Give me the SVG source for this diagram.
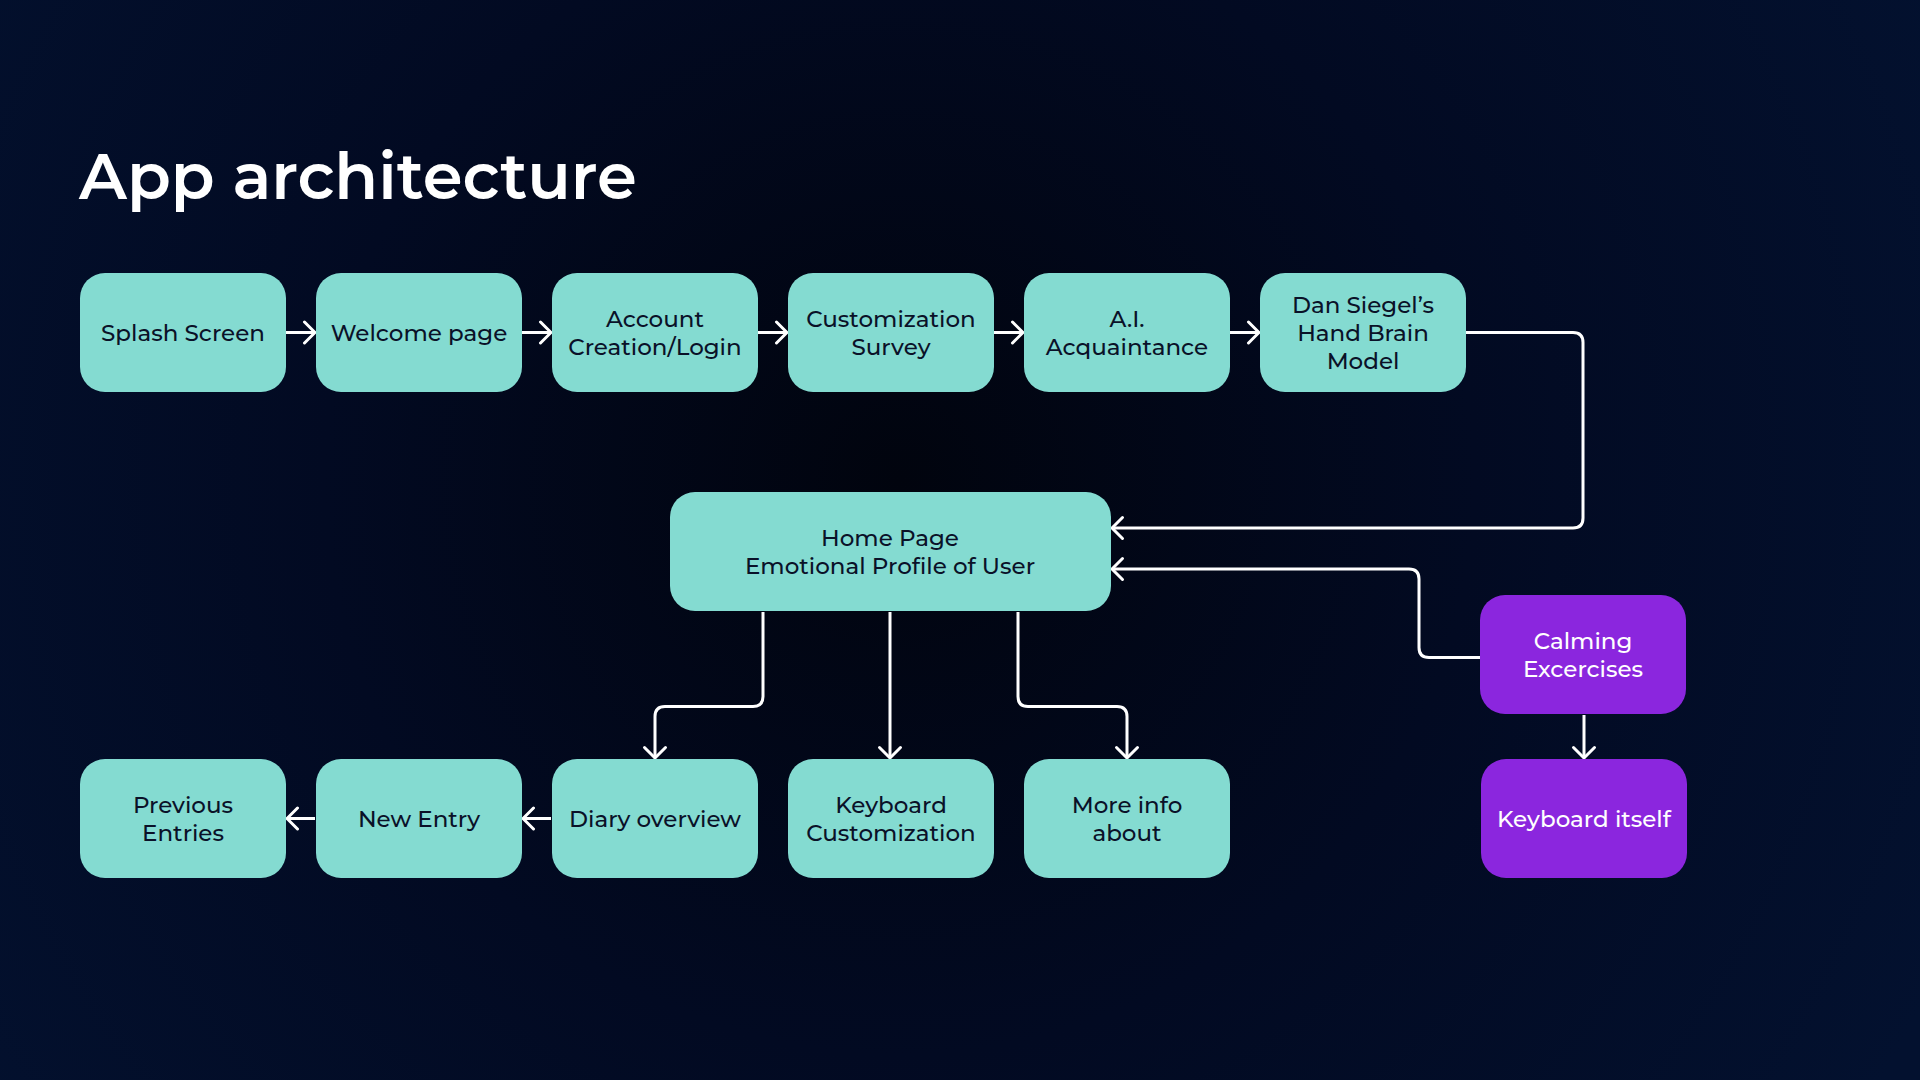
<svg xmlns="http://www.w3.org/2000/svg" width="1920" height="1080" viewBox="0 0 1920 1080">
<defs>
<radialGradient id="bg" cx="900" cy="480" r="1150" gradientUnits="userSpaceOnUse">
<stop offset="0" stop-color="#01040e"/>
<stop offset="0.5" stop-color="#020a22"/>
<stop offset="1" stop-color="#03112f"/>
</radialGradient>
<marker id="arr" viewBox="0 0 26 26" refX="23" refY="13" markerWidth="26" markerHeight="26" markerUnits="userSpaceOnUse" orient="auto">
<path d="M12.5,2.5 L23,13 L12.5,23.5" fill="none" stroke="#ffffff" stroke-width="3" stroke-linecap="round" stroke-linejoin="round"/>
</marker>
<style>
.t{fill:#84dbd1}
.p{fill:#8b26de}
.lb{font-family:"Montserrat","Open Sans","Noto Sans",sans-serif;font-size:23px;font-weight:500;fill:#0a1128;text-anchor:middle}
.lw{font-family:"Montserrat","Open Sans","Noto Sans",sans-serif;font-size:23px;font-weight:500;fill:#ffffff;text-anchor:middle}
.c{fill:none;stroke:#ffffff;stroke-width:3;stroke-linejoin:round;marker-end:url(#arr)}
</style>
</defs>
<rect width="1920" height="1080" fill="url(#bg)"/>
<text x="79" y="199" font-family="Montserrat,'Open Sans','Noto Sans',sans-serif" font-weight="600" font-size="64" fill="#ffffff">App architecture</text>

<g id="connectors">
<path class="c" d="M286,332.5 H315"/>
<path class="c" d="M522,332.5 H551"/>
<path class="c" d="M758,332.5 H787"/>
<path class="c" d="M994,332.5 H1023"/>
<path class="c" d="M1230,332.5 H1259"/>
<path class="c" d="M1466,332.5 H1573 Q1583,332.5 1583,342.5 V518 Q1583,528 1573,528 H1112"/>
<path class="c" d="M1480,657.5 H1429 Q1419,657.5 1419,647.5 V579 Q1419,569 1409,569 H1112"/>
<path class="c" d="M763,612 V696.5 Q763,706.5 753,706.5 H665 Q655,706.5 655,716.5 V758"/>
<path class="c" d="M890,612 V758"/>
<path class="c" d="M1018,612 V696.5 Q1018,706.5 1028,706.5 H1117 Q1127,706.5 1127,716.5 V758"/>
<path class="c" d="M1584,715 V758"/>
<path class="c" d="M551,818.5 H523"/>
<path class="c" d="M315,818.5 H287"/>
</g>

<g id="splash"><rect class="t" x="80" y="273" width="206" height="119" rx="25"/><text class="lb" x="183" y="341">Splash Screen</text></g>
<g id="welcome"><rect class="t" x="316" y="273" width="206" height="119" rx="25"/><text class="lb" x="419" y="341">Welcome page</text></g>
<g id="account"><rect class="t" x="552" y="273" width="206" height="119" rx="25"/><text class="lb" x="655" y="327">Account</text><text class="lb" x="655" y="355">Creation/Login</text></g>
<g id="survey"><rect class="t" x="788" y="273" width="206" height="119" rx="25"/><text class="lb" x="891" y="327">Customization</text><text class="lb" x="891" y="355">Survey</text></g>
<g id="ai"><rect class="t" x="1024" y="273" width="206" height="119" rx="25"/><text class="lb" x="1127" y="327">A.I.</text><text class="lb" x="1127" y="355">Acquaintance</text></g>
<g id="siegel"><rect class="t" x="1260" y="273" width="206" height="119" rx="25"/><text class="lb" x="1363" y="313">Dan Siegel’s</text><text class="lb" x="1363" y="341">Hand Brain</text><text class="lb" x="1363" y="369">Model</text></g>

<g id="home"><rect class="t" x="670" y="492" width="441" height="119" rx="25"/><text class="lb" x="890" y="546">Home Page</text><text class="lb" x="890" y="574">Emotional Profile of User</text></g>

<g id="calming"><rect class="p" x="1480" y="595" width="206" height="119" rx="25"/><text class="lw" x="1583" y="649">Calming</text><text class="lw" x="1583" y="677">Excercises</text></g>
<g id="keyboard-itself"><rect class="p" x="1481" y="759" width="206" height="119" rx="25"/><text class="lw" x="1584" y="827">Keyboard itself</text></g>

<g id="previous"><rect class="t" x="80" y="759" width="206" height="119" rx="25"/><text class="lb" x="183" y="813">Previous</text><text class="lb" x="183" y="841">Entries</text></g>
<g id="new-entry"><rect class="t" x="316" y="759" width="206" height="119" rx="25"/><text class="lb" x="419" y="827">New Entry</text></g>
<g id="diary"><rect class="t" x="552" y="759" width="206" height="119" rx="25"/><text class="lb" x="655" y="827">Diary overview</text></g>
<g id="keyboard-custom"><rect class="t" x="788" y="759" width="206" height="119" rx="25"/><text class="lb" x="891" y="813">Keyboard</text><text class="lb" x="891" y="841">Customization</text></g>
<g id="more-info"><rect class="t" x="1024" y="759" width="206" height="119" rx="25"/><text class="lb" x="1127" y="813">More info</text><text class="lb" x="1127" y="841">about</text></g>
</svg>
